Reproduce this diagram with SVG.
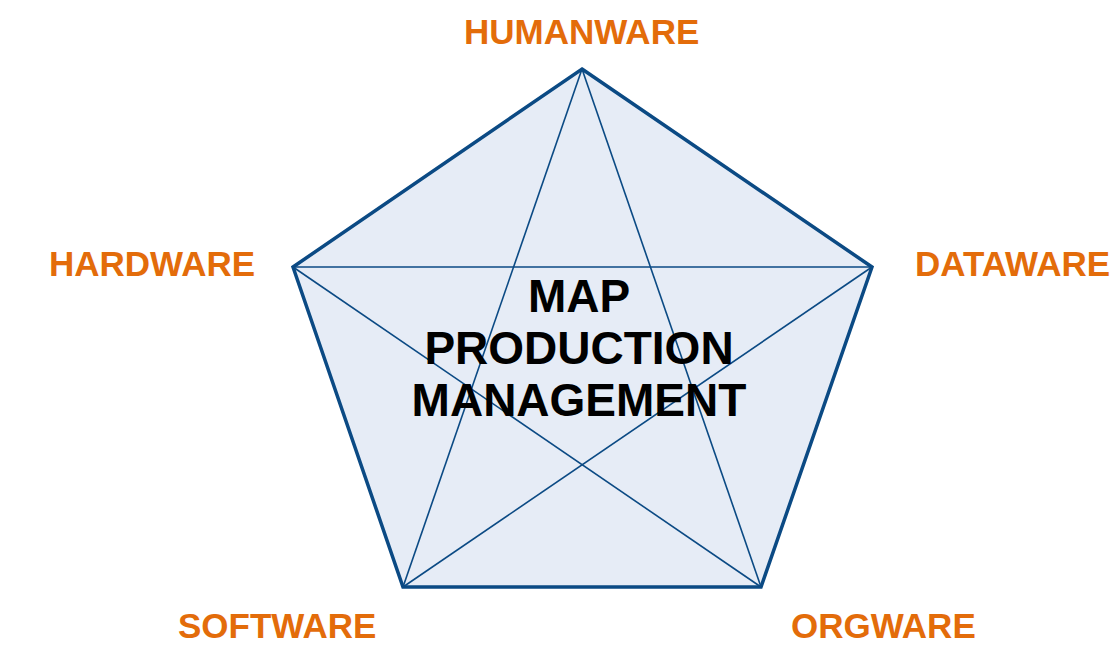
<svg xmlns="http://www.w3.org/2000/svg" width="1114" height="651" viewBox="0 0 1114 651">
<style>
.lbl{font-family:"Liberation Sans",Arial,sans-serif;font-weight:bold;font-size:35px;fill:#E36C0A}
.ctr{font-family:"Liberation Sans",Arial,sans-serif;font-weight:bold;font-size:46px;fill:#000;text-anchor:middle}
.outer{fill:#E6ECF6;stroke:#0B4A84;stroke-width:3.5;stroke-linejoin:miter}
.inner{fill:none;stroke:#0B4A84;stroke-width:1.6}
</style>
<rect width="1114" height="651" fill="#fff"/>
<g id="pentagon">
<polygon class="outer" points="582,69 872,267 761,587 403,587 293,267"/>
</g>
<g id="connectors">
<line class="inner" x1="582" y1="69" x2="403" y2="587"/>
<line class="inner" x1="582" y1="69" x2="761" y2="587"/>
<line class="inner" x1="293" y1="267" x2="872" y2="267"/>
<line class="inner" x1="293" y1="267" x2="761" y2="587"/>
<line class="inner" x1="872" y1="267" x2="403" y2="587"/>
</g>
<g id="center">
<text class="ctr" x="579" y="312">MAP</text>
<text class="ctr" x="579" y="364">PRODUCTION</text>
<text class="ctr" x="579" y="416">MANAGEMENT</text>
</g>
<g id="humanware"><text class="lbl" x="464" y="44">HUMANWARE</text></g>
<g id="hardware"><text class="lbl" x="49" y="276">HARDWARE</text></g>
<g id="dataware"><text class="lbl" x="915" y="276">DATAWARE</text></g>
<g id="software"><text class="lbl" x="178" y="638">SOFTWARE</text></g>
<g id="orgware"><text class="lbl" x="791" y="638">ORGWARE</text></g>
</svg>
